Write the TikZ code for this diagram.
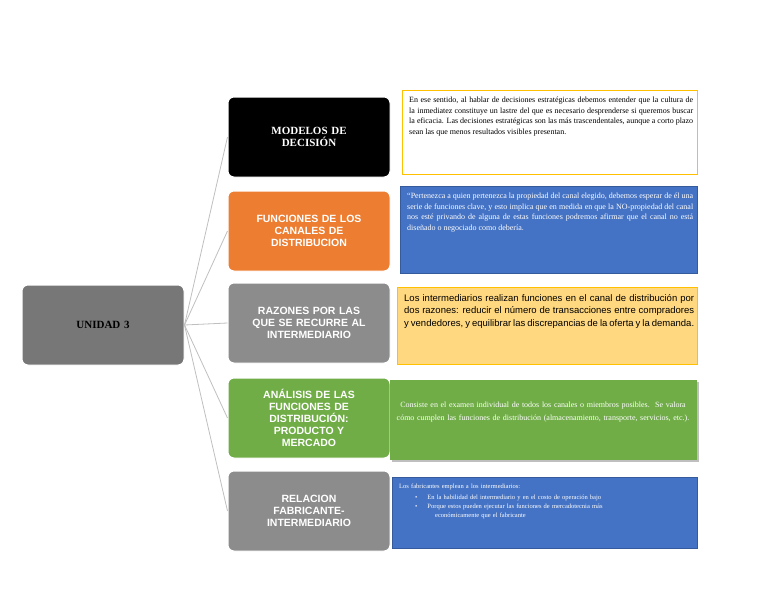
\documentclass[tikz,border=0pt]{standalone}
\usepackage{fontspec}
\setmainfont{Liberation Serif}
\setsansfont{Liberation Sans}
\usetikzlibrary{positioning,shadows}
\definecolor{naranja}{HTML}{ED7D31}
\definecolor{gris}{HTML}{8C8C8C}
\definecolor{verde}{HTML}{70AD47}
\definecolor{azul}{HTML}{4472C4}
\definecolor{oro}{HTML}{FFD87F}
\definecolor{amarillo}{HTML}{FFC000}
\tikzstyle{tema}  = [rounded corners=6pt, minimum width=162pt, minimum height=80pt, align=center, text width=140pt, font=\sffamily\bfseries\fontsize{10.5}{12}\selectfont, text=white, draw=white, line width=1pt]
\tikzstyle{nota}  = [anchor=north west, inner sep=5pt, font=\fontsize{8}{10.6}\selectfont]
\tikzstyle{rama}  = [draw=black!25, line width=0.8pt]
\begin{document}
\begin{tikzpicture}[x=1pt,y=-1pt]
        \useasboundingbox (0,0) rectangle (768,594);

        \node[tema, fill=gris!85!black, minimum width=162pt, text=black, font=\rmfamily\bfseries\fontsize{11}{13}\selectfont] (unidad) at (103,325) {UNIDAD 3};

        \node[tema, fill=black, font=\rmfamily\bfseries\fontsize{11}{12}\selectfont] (modelos) at (309,137) {MODELOS DE\\DECISIÓN};
        \node[tema, fill=naranja] (funciones) at (309,231) {FUNCIONES DE LOS\\CANALES DE\\DISTRIBUCION};
        \node[tema, fill=gris] (razones) at (309,323) {RAZONES POR LAS\\QUE SE RECURRE AL\\INTERMEDIARIO};
        \node[tema, fill=verde] (analisis) at (309,418) {ANÁLISIS DE LAS\\FUNCIONES DE\\DISTRIBUCIÓN:\\PRODUCTO Y\\MERCADO};
        \node[tema, fill=gris] (relacion) at (309,511) {RELACION\\FABRICANTE-\\INTERMEDIARIO};

        \foreach \n in {modelos,funciones,razones,analisis,relacion}
            \draw[rama] (unidad.east) -- (\n.west);

        \draw[amarillo, fill=white, line width=0.8pt] (402,90) rectangle (697,174);
        \node[nota, text width=284pt, align=justify] (n1) at (404,92) {En ese sentido, al hablar de decisiones estratégicas debemos entender que la cultura de la inmediatez constituye un lastre del que es necesario desprenderse si queremos buscar la eficacia. Las decisiones estratégicas son las más trascendentales, aunque a corto plazo sean las que menos resultados visibles presentan.};

        \draw[azul!80!black, fill=azul] (400,186) rectangle (697,273);
        \node[nota, text=white, text width=286pt, align=justify] (n2) at (402,188) {“Pertenezca a quien pertenezca la propiedad del canal elegido, debemos esperar de él una serie de funciones clave, y esto implica que en medida en que la NO-propiedad del canal nos esté privando de alguna de estas funciones podremos afirmar que el canal no está diseñado o negociado como debería.};

        \draw[amarillo, fill=oro] (397,287) rectangle (697,364);
        \node[nota, text width=290pt, align=justify, font=\sffamily\fontsize{9.5}{12.5}\selectfont] (n3) at (399,289) {Los intermediarios realizan funciones en el canal de distribución por dos razones: reducir el número de transacciones entre compradores y vendedores, y equilibrar las discrepancias de la oferta y la demanda.};

        \fill[verde, drop shadow] (390,380) rectangle (697,460);
        \node[text=white, text width=295pt, align=center, font=\fontsize{8}{13}\selectfont] (n4) at (543,412) {Consiste en el examen individual de todos los canales o miembros posibles.\ \ Se valora cómo cumplen las funciones de distribución (almacenamiento, transporte, servicios, etc.).};

        \draw[azul!80!black, fill=azul] (392,477) rectangle (697,548);
        \node[nota, text=white, text width=295pt, font=\fontsize{6.5}{9}\selectfont] (n5) at (394,479) {Los fabricantes emplean a los intermediarios:\\[2pt]
        \hspace*{16pt}\textbullet\hspace{10pt}En la habilidad del intermediario y en el costo de operación bajo\\
        \hspace*{16pt}\textbullet\hspace{10pt}Porque estos pueden ejecutar las funciones de mercadotecnia más\\
        \hspace*{36pt}económicamente que el fabricante};
    \end{tikzpicture}
\end{document}
